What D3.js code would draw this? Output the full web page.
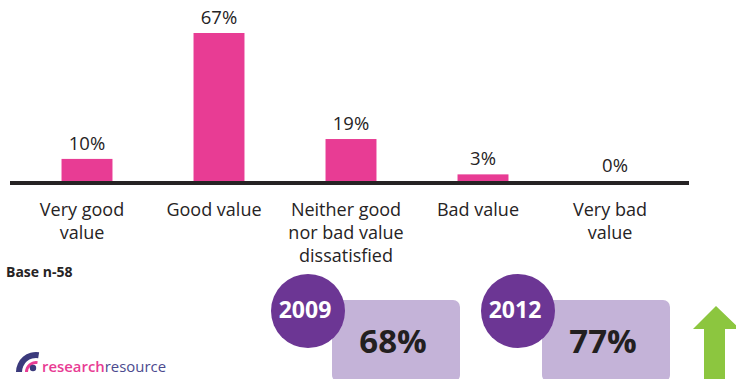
<!DOCTYPE html>
<html>
<head>
<meta charset="utf-8">
<script src="https://cdn.jsdelivr.net/npm/d3@7/dist/d3.min.js"></script>
<style>
  html, body { margin: 0; padding: 0; background: #fff; }
  svg { display: block; }
  text { font-family: "Open Sans", "Noto Sans", sans-serif; }
</style>
</head>
<body>
<div id="chart"></div>
<script>
// Perceived value ratings
const categories = [
  ["Very good", "value"],
  ["Good value"],
  ["Neither good", "nor bad value", "dissatisfied"],
  ["Bad value"],
  ["Very bad", "value"]
];
const values = [10, 67, 19, 3, 0];

// Year-on-year satisfaction summary
const years = ["2009", "2012"];
const yearScores = [68, 77];

const W = 736, H = 379;
const pink = "#e83c94";
const ink = "#262324";

const svg = d3.select("#chart").append("svg")
  .attr("width", W).attr("height", H);

const x = d3.scaleBand()
  .domain(d3.range(values.length))
  .range([21, 681])
  .paddingInner(0.614)
  .paddingOuter(0.307);

const y = d3.scaleLinear().domain([0, 67]).range([181, 33]);

// bars
svg.selectAll("rect.bar").data(values).join("rect")
  .attr("class", "bar")
  .attr("x", (d, i) => x(i))
  .attr("width", x.bandwidth())
  .attr("y", d => y(d))
  .attr("height", d => y(0) - y(d))
  .attr("fill", pink);

// value labels
svg.selectAll("text.val").data(values).join("text")
  .attr("class", "val")
  .attr("x", (d, i) => x(i) + x.bandwidth() / 2)
  .attr("y", d => y(d) - 9)
  .attr("text-anchor", "middle")
  .attr("font-size", 18.5)
  .attr("fill", ink)
  .text(d => d + "%");

// baseline
svg.append("line")
  .attr("x1", 10).attr("x2", 689)
  .attr("y1", y(0) + 2).attr("y2", y(0) + 2)
  .attr("stroke", ink).attr("stroke-width", 4);

// category labels, one text element per line
const catLines = categories.flatMap((lines, i) => lines.map((t, j) => ({ t, i, j })));
svg.selectAll("text.cat").data(catLines).join("text")
  .attr("class", "cat")
  .attr("text-anchor", "middle")
  .attr("font-size", 18)
  .attr("fill", ink)
  .attr("x", d => x(d.i) + x.bandwidth() / 2 - 5)
  .attr("y", d => 215.5 + d.j * 23)
  .text(d => d.t);

// base note
svg.append("text")
  .attr("x", 6).attr("y", 277)
  .attr("font-size", 14).attr("font-weight", 700)
  .attr("fill", ink)
  .text("Base n-58");

// summary cards
const cards = svg.selectAll("g.card").data(years).join("g")
  .attr("class", "card")
  .attr("transform", (d, i) => `translate(${i * 210},0)`);

cards.append("rect")
  .attr("x", 332).attr("y", 300)
  .attr("width", 128).attr("height", 82)
  .attr("rx", 7)
  .attr("fill", "#c4b3d8");

cards.append("circle")
  .attr("cx", 308).attr("cy", 311).attr("r", 37)
  .attr("fill", "#6c3694");

cards.append("text")
  .attr("x", 305).attr("y", 317.5)
  .attr("text-anchor", "middle")
  .attr("font-size", 23).attr("font-weight", 700)
  .attr("fill", "#fff")
  .text(d => d);

cards.append("text")
  .attr("x", 393).attr("y", 353)
  .attr("text-anchor", "middle")
  .attr("font-size", 33).attr("font-weight", 700)
  .attr("fill", "#231f20")
  .text((d, i) => yearScores[i] + "%");

// upward trend arrow
svg.append("path")
  .attr("d", "M716,306 L740,329 L725,329 L725,379 L704,379 L704,329 L693,329 Z")
  .attr("fill", "#8cc63f");

// brand mark
const logo = svg.append("g");
logo.append("path")
  .attr("d", d3.arc()({ innerRadius: 14, outerRadius: 20, startAngle: -Math.PI / 2, endAngle: Math.PI * 0.05 }))
  .attr("transform", "translate(36,372)")
  .attr("fill", "#3b3a7c");
logo.append("path")
  .attr("d", d3.arc()({ innerRadius: 8, outerRadius: 11, startAngle: -Math.PI / 2, endAngle: Math.PI * 0.05 }))
  .attr("transform", "translate(36,372)")
  .attr("fill", pink);
logo.append("circle")
  .attr("cx", 33).attr("cy", 368).attr("r", 3.2)
  .attr("fill", "#3b3a7c");
const brand = logo.append("text")
  .attr("x", 42).attr("y", 372)
  .attr("font-size", 15)
  .attr("textLength", 124)
  .attr("lengthAdjust", "spacingAndGlyphs");
brand.append("tspan").attr("fill", pink).attr("font-weight", 600).text("research");
brand.append("tspan").attr("fill", "#4b4a8e").text("resource");
</script>
</body>
</html>
